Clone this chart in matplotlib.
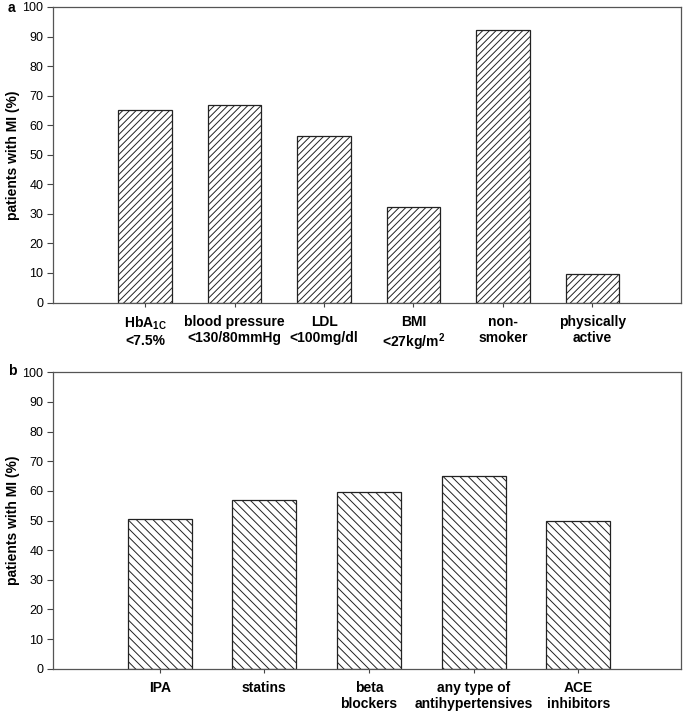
import matplotlib
matplotlib.use("Agg")
import matplotlib.pyplot as plt
import numpy as np

plt.rcParams['font.family'] = ['Liberation Sans', 'DejaVu Sans']
plt.rcParams['mathtext.fontset'] = 'custom'
plt.rcParams['mathtext.rm'] = 'Liberation Sans:bold'
plt.rcParams['mathtext.bf'] = 'Liberation Sans:bold'
plt.rcParams['mathtext.default'] = 'bf'
plt.rcParams['hatch.linewidth'] = 0.7
plt.rcParams['hatch.color'] = '#222222'

cats_a = ["HbA$_{1C}$\n<7.5%", "blood pressure\n<130/80mmHg", "LDL\n<100mg/dl",
          "BMI\n<27kg/m$^{2}$", "non-\nsmoker", "physically\nactive"]
vals_a = [65.0, 67.0, 56.2, 32.2, 92.2, 9.5]

cats_b = ["IPA", "statins", "beta\nblockers", "any type of\nantihypertensives", "ACE\ninhibitors"]
vals_b = [50.6, 56.9, 59.5, 65.1, 49.7]

yticks = [0, 10, 20, 30, 40, 50, 60, 70, 80, 90, 100]
ylab = "patients with MI (%)"

fig = plt.figure(figsize=(6.85, 7.12), dpi=100)
ax_a = fig.add_axes([0.0774, 0.5751, 0.9166, 0.4151])
ax_b = fig.add_axes([0.0774, 0.0608, 0.9166, 0.4163])

def style(ax, cats, vals, hatch, width, xlim):
    x = np.arange(len(cats))
    ax.bar(x, vals, width=width, color='white', edgecolor='#222222',
           linewidth=0.9, hatch=hatch)
    ax.set_xlim(*xlim)
    ax.set_ylim(0, 100)
    ax.set_yticks(yticks)
    ax.set_yticklabels([str(t) for t in yticks], fontsize=9)
    ax.set_xticks(x)
    ax.set_xticklabels(cats, fontsize=10, fontweight='bold', linespacing=1.15, va='top')
    ax.tick_params(axis='x', length=3, width=0.8, pad=6, color='#444444')
    ax.tick_params(axis='y', length=4, width=0.8, pad=3, color='#444444')
    for s in ax.spines.values():
        s.set_color('#555555')
        s.set_linewidth(0.9)
    ax.set_ylabel(ylab, fontsize=10, fontweight='bold', labelpad=2)

style(ax_a, cats_a, vals_a, '/////', 0.6, (-1.03, 5.99))
style(ax_b, cats_b, vals_b, '\\\\\\\\', 0.61, (-1.02, 4.98))

fig.text(8/685, 1 - 8/712, "a", fontsize=10, fontweight='bold', va='center', ha='left')
fig.text(8/685, 1 - 371/712, "b", fontsize=10, fontweight='bold', va='center', ha='left')

fig.savefig("out.png", dpi=100)
